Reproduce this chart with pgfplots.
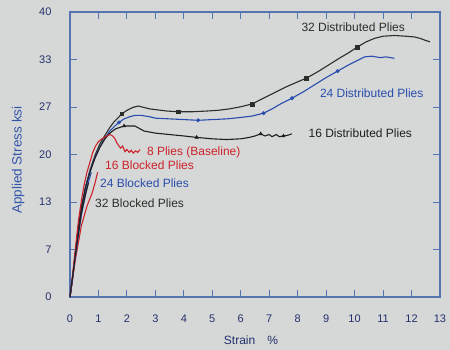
\documentclass[border=0pt]{standalone}
\usepackage{pgfplots}
\pgfplotsset{compat=1.18}
\usepackage{fontspec}
\setmainfont{Liberation Sans}
\definecolor{paper}{RGB}{214,216,216}
\definecolor{frameblue}{RGB}{86,116,176}
\definecolor{navy}{RGB}{36,48,108}
\definecolor{labblue}{RGB}{52,86,168}
\definecolor{cdark}{RGB}{40,46,40}
\definecolor{cblue}{RGB}{40,76,172}
\definecolor{cblack}{RGB}{30,30,30}
\definecolor{cred}{RGB}{204,34,42}
\begin{document}
\begin{tikzpicture}
\fill[paper] (-70pt,-53pt) rectangle (380pt,297pt);
\begin{axis}[
  at={(0,0)}, anchor=south west,
  scale only axis, width=370pt, height=285pt,
  xmin=0, xmax=13, ymin=0, ymax=40,
  xtick={0,1,...,13},
  ytick={0,6.6667,13.3333,20,26.6667,33.3333,40},
  yticklabels={0,7,13,20,27,33,40},
  tick align=inside, major tick length=7pt,
  axis line style={frameblue, line width=1.1pt},
  every tick/.style={frameblue, line width=0.9pt},
  tick label style={font=\fontsize{11}{12}\selectfont, text=navy},
  /pgf/number format/assume math mode=true,
  yticklabel style={xshift=-15pt},
  xticklabel style={yshift=-14pt},
  xlabel={Strain\hspace{12pt}\%},
  ylabel={Applied Stress\hspace{4pt}ksi},
  xlabel style={font=\fontsize{12}{14}\selectfont, text=navy, at={(axis description cs:0.489,-0.151)}, anchor=center},
  ylabel style={font=\fontsize{13.5}{15}\selectfont, text=labblue, at={(axis description cs:-0.1405,0.48)}, anchor=center},
  clip=false,
]
% 32 Distributed
\addplot[cdark, line width=1.1pt] coordinates {
(0,0) (0.1,3) (0.2,6.5) (0.3,10) (0.4,12.5) (0.55,15.5) (0.7,17.8) (0.88,19.9) (1.05,21.5) (1.23,22.7) (1.4,23.8) (1.55,24.6) (1.7,25.2) (1.82,25.7) (2.0,26.2) (2.2,26.6) (2.4,26.8) (2.6,26.6) (2.8,26.4) (3.0,26.3) (3.4,26.1) (3.8,26.0) (4.3,26.0) (4.8,26.1) (5.2,26.2) (5.6,26.4) (6.0,26.7) (6.4,27.1) (6.8,27.9) (7.2,28.7) (7.6,29.5) (8.0,30.2) (8.3,30.7) (8.7,31.6) (9.1,32.6) (9.5,33.6) (9.8,34.3) (10.1,35.1) (10.4,35.8) (10.7,36.3) (11.0,36.6) (11.4,36.7) (11.8,36.6) (12.1,36.5) (12.3,36.3) (12.5,36.0) (12.65,35.8)};
\addplot[only marks, mark=square*, mark size=1.8pt, cdark] coordinates {(1.82,25.7) (3.8,26.0) (6.4,27.1) (8.3,30.7) (10.1,35.1)};
% 24 Distributed
\addplot[cblue, line width=1.1pt] coordinates {
(0,0) (0.1,3) (0.2,6.5) (0.3,10) (0.4,12.5) (0.55,15.5) (0.7,17.6) (0.88,19.6) (1.05,21.1) (1.23,22.3) (1.4,23.3) (1.55,23.9) (1.72,24.5) (1.9,25.0) (2.1,25.3) (2.3,25.5) (2.5,25.5) (2.8,25.3) (3.0,25.1) (3.5,25.0) (4.0,24.9) (4.5,24.8) (5.0,24.9) (5.5,25.0) (6.0,25.2) (6.4,25.4) (6.8,25.8) (7.1,26.4) (7.4,27.1) (7.8,27.9) (8.2,28.8) (8.6,29.8) (9.0,30.8) (9.4,31.7) (9.8,32.6) (10.1,33.2) (10.35,33.7) (10.6,33.8) (10.9,33.6) (11.1,33.7) (11.4,33.5)};
\addplot[only marks, mark=*, mark size=1.8pt, cblue] coordinates {(1.72,24.5) (4.5,24.8) (6.8,25.8) (7.8,27.9) (9.4,31.7)};
% 16 Distributed
\addplot[cblack, line width=1.1pt] coordinates {
(0,0) (0.1,3) (0.2,6.5) (0.3,10) (0.4,12.5) (0.55,15.4) (0.7,17.5) (0.88,19.5) (1.05,21.0) (1.23,22.2) (1.4,23.0) (1.6,23.6) (1.9,24.0) (2.28,24.0) (2.6,23.3) (3.0,23.0) (3.5,22.8) (4.0,22.6) (4.45,22.4) (5.0,22.2) (5.5,22.1) (6.0,22.2) (6.3,22.4) (6.5,22.6) (6.7,22.9) (6.85,22.6) (7.0,22.8) (7.1,22.5) (7.25,22.8) (7.35,22.5) (7.5,22.6) (7.65,22.7) (7.8,22.9)};
\addplot[only marks, mark=triangle*, mark size=2pt, cblack] coordinates {(1.9,24.0) (4.45,22.4) (6.7,22.9) (7.5,22.6)};
% 8 Plies baseline
\addplot[cred, line width=1.1pt] coordinates {
(0,0) (0.1,3.5) (0.2,7.2) (0.3,10.8) (0.4,13.5) (0.5,15.8) (0.6,17.6) (0.7,18.9) (0.8,20.3) (0.9,21.2) (1.0,21.8) (1.12,22.2) (1.25,22.5) (1.4,22.8) (1.5,22.6) (1.58,22.2) (1.65,21.6) (1.72,21.2) (1.78,20.9) (1.85,21.2) (1.93,20.4) (2.0,20.7) (2.08,20.3) (2.15,20.6) (2.22,20.2) (2.3,20.5) (2.38,20.3) (2.46,20.7)};
% Blocked plies
\addplot[cred, line width=1.1pt] coordinates {(0,0) (0.2,5.5) (0.4,10) (0.6,12.8) (0.77,14.5) (0.88,16) (0.97,17.5)};
\addplot[cblue, line width=1.1pt] coordinates {(0,0) (0.2,6) (0.4,11.5) (0.6,15.5) (0.75,17.5)};
\addplot[cblack, line width=1.1pt] coordinates {(0,0) (0.2,6.3) (0.4,11.8) (0.55,14.5) (0.65,16)};
% labels
\begin{scope}[font=\fontsize{12}{14}\selectfont]
\node[text=cdark] at (axis cs:9.95,37.9) {32 Distributed Plies};
\node[text=cblue] at (axis cs:10.6,28.6) {24 Distributed Plies};
\node[text=cblack] at (axis cs:10.2,23.0) {16 Distributed Plies};
\node[text=cred, anchor=west, inner sep=0pt] at (axis cs:2.7,20.3) {8 Plies (Baseline)};
\node[text=cred, anchor=west, inner sep=0pt] at (axis cs:1.23,18.5) {16 Blocked Plies};
\node[text=cblue, anchor=west, inner sep=0pt] at (axis cs:1.05,15.9) {24 Blocked Plies};
\node[text=cdark, anchor=west, inner sep=0pt] at (axis cs:0.88,13.2) {32 Blocked Plies};
\end{scope}
\end{axis}
\pgfresetboundingbox
\path[use as bounding box] (-70pt,-53pt) rectangle (380pt,297pt);
\end{tikzpicture}
\end{document}
